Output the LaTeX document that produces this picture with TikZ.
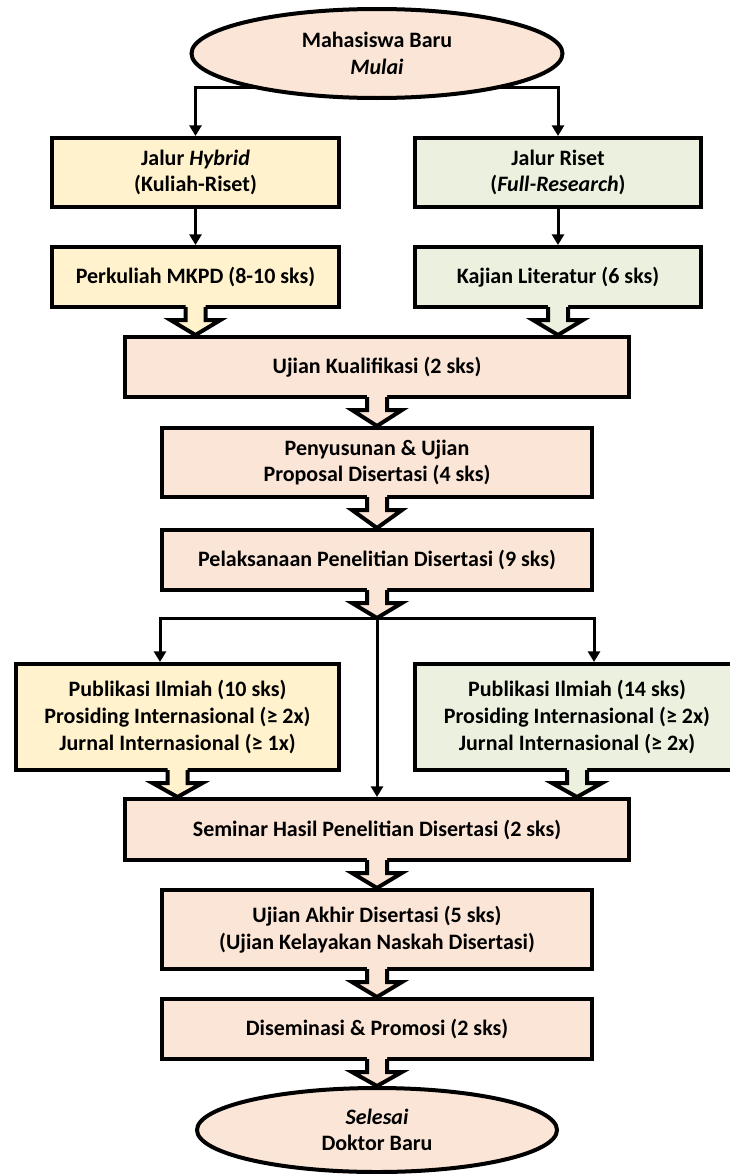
\documentclass[tikz,border=0pt]{standalone}
\usepackage{fontspec}
\setmainfont{Carlito}
\usetikzlibrary{arrows.meta,calc,shapes.geometric}
\definecolor{hybfill}{RGB}{255,242,204}
\definecolor{risfill}{RGB}{235,241,222}
\definecolor{corefill}{RGB}{251,229,214}
\pgfdeclarelayer{background}
\pgfsetlayers{background,main}
\tikzset{
  stepbox/.style={draw=black, line width=3pt, inner sep=0pt, align=center,
    font=\fontsize{16.5}{20}\selectfont\bfseries},
  sz/.style 2 args={minimum width=#1*0.75pt, minimum height=#2*0.75pt},
  hyb/.style={stepbox, fill=hybfill},
  ris/.style={stepbox, fill=risfill},
  core/.style={stepbox, fill=corefill},
  term/.style={core, ellipse},
  conn/.style={line width=2.25pt, -{Triangle[length=8pt,width=9pt]}},
  chevline/.style={line width=3pt, line join=miter},
}
% block arrow leaving the bottom of node #1, tip at point #2, filled with #3
\newcommand\chevron[3]{%
  \fill[#3] ($(#1.south)+(-10,-5)$) -- ($(#1.south)+(-10,11)$) -- ($(#1.south)+(-25,11)$)
    -- (#2) -- ($(#1.south)+(25,11)$) -- ($(#1.south)+(10,11)$) -- ($(#1.south)+(10,-5)$) -- cycle;
  \draw[chevline] ($(#1.south)+(-10,-2)$) -- ($(#1.south)+(-10,11)$) -- ($(#1.south)+(-25,11)$)
    -- (#2) -- ($(#1.south)+(25,11)$) -- ($(#1.south)+(10,11)$) -- ($(#1.south)+(10,-2)$);
}
\begin{document}
\begin{tikzpicture}[x=0.75pt, y=-0.75pt]
\useasboundingbox (0,0) rectangle (730,1174);
\begin{pgfonlayer}{background}
  \fill[white] (0,0) rectangle (730,1174);
\end{pgfonlayer}

% entry and the two tracks
\node[term, sz={371}{89}] (start) at (377,53.5) {Mahasiswa Baru\\\textit{Mulai}};
\node[hyb, sz={287}{69}] (hyb) at (195.5,172.5) {Jalur \textit{Hybrid}\\(Kuliah-Riset)};
\node[ris, sz={286}{69}] (ris) at (558,172.5) {Jalur Riset\\(\textit{Full-Research})};
\node[hyb, sz={287}{60}] (perk) at (195.5,277) {Perkuliah MKPD (8-10 sks)};
\node[ris, sz={286}{60}] (kaj) at (558,277) {Kajian Literatur (6 sks)};

% common stages
\node[core, sz={504}{60}] (ujk) at (377,367) {Ujian Kualifikasi (2 sks)};
\node[core, sz={430}{69}] (prop) at (377,462.5) {Penyusunan \& Ujian\\Proposal Disertasi (4 sks)};
\node[core, sz={430}{60}] (pel) at (377,560) {Pelaksanaan Penelitian Disertasi (9 sks)};

% publications per track
\node[hyb, sz={323}{106}] (pubL) at (177.5,717) {Publikasi Ilmiah (10 sks)\\Prosiding Internasional (≥ 2x)\\Jurnal Internasional (≥ 1x)};
\node[ris, sz={324}{106}] (pubR) at (577,717) {Publikasi Ilmiah (14 sks)\\Prosiding Internasional (≥ 2x)\\Jurnal Internasional (≥ 2x)};

% final stages
\node[core, sz={504}{61}] (sem) at (377,829.5) {Seminar Hasil Penelitian Disertasi (2 sks)};
\node[core, sz={430}{79}] (akh) at (377,929.5) {Ujian Akhir Disertasi (5 sks)\\(Ujian Kelayakan Naskah Disertasi)};
\node[core, sz={430}{60}] (dis) at (377,1029) {Diseminasi \& Promosi (2 sks)};
\node[term, sz={360}{84}] (finish) at (377,1130) {\textit{Selesai}\\Doktor Baru};

% split from the entry into both tracks (runs beneath the ellipse)
\coordinate (split) at (377,87);
\begin{pgfonlayer}{background}
  \draw[conn] (split) -| (hyb.north);
  \draw[conn] (split) -| (ris.north);
\end{pgfonlayer}
\draw[conn] (hyb) -- (perk);
\draw[conn] (ris) -- (kaj);

% block arrows
\chevron{perk}{perk.south |- ujk.north}{hybfill}
\chevron{kaj}{kaj.south |- ujk.north}{risfill}
\chevron{ujk}{prop.north}{corefill}
\chevron{prop}{pel.north}{corefill}
\coordinate (fork) at (377,618);
\chevron{pel}{fork}{corefill}
\chevron{pubL}{pubL.south |- sem.north}{hybfill}
\chevron{pubR}{pubR.south |- sem.north}{risfill}
\chevron{sem}{akh.north}{corefill}
\chevron{akh}{dis.north}{corefill}
\chevron{dis}{finish.north}{corefill}

% fork after the research stage
\draw[conn] (fork) -| (pel.south west |- pubL.north);
\draw[conn] (fork) -| (pel.south east |- pubR.north);
\draw[conn] (fork) -- (sem.north);
\end{tikzpicture}
\end{document}
